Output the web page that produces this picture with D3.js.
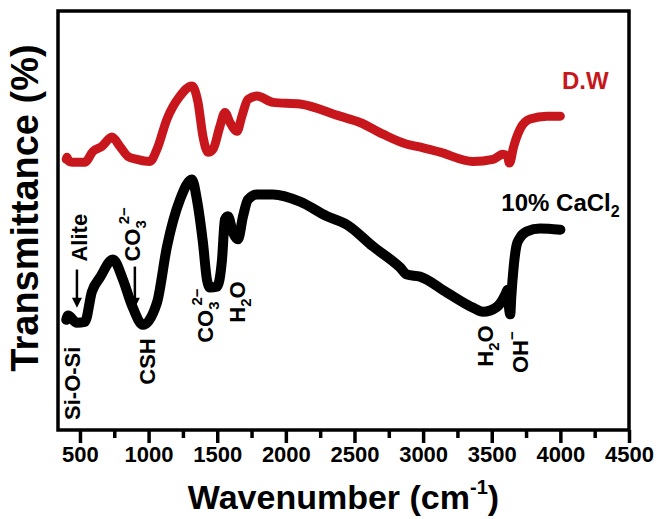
<!DOCTYPE html>
<html><head><meta charset="utf-8">
<script src="https://cdn.jsdelivr.net/npm/d3@7"></script>
<style>body{margin:0;background:#fff}</style>
</head><body><svg id="c" width="657" height="519"></svg>
<script>
// ---- data ----
const wnBlack = [400,413,478,536,587,646,740,813,879,959,1061,1134,1229,1316,1352,1396,1425,1447,1498,1535,1556,1578,1615,1651,1688,1724,1790,1906,2103,2300,2445,2635,2832,2883,2977,3174,3363,3436,3538,3600,3615,3628,3635,3642,3660,3680,3700,3757,3852,4000];
const tBlack  = [26.3,27.3,25.6,25.8,33.0,36.4,40.7,35.9,29.7,25.1,30.4,43.8,55.0,59.8,55.0,44.7,35.9,34.0,34.2,40.7,50.2,51.0,47.1,45.5,51.0,55.0,56.2,56.2,54.5,51.0,49.0,43.8,38.8,37.1,36.6,32.8,29.2,28.2,29.4,32.4,33.5,28.5,27.6,31.5,39.0,44.0,45.6,47.4,48.1,47.8];
const wnRed = [400,405,420,449,536,595,660,733,791,850,915,1010,1061,1134,1229,1316,1360,1396,1433,1469,1520,1556,1593,1644,1680,1724,1790,1906,2103,2394,2540,2708,2883,2955,3123,3363,3509,3582,3615,3628,3635,3655,3706,3779,3903,4000];
const tRed  = [64.6,65.1,64.1,63.9,63.9,66.5,67.7,69.9,67.7,65.3,64.6,64.1,67.0,74.2,79.7,82.1,78.2,70.1,66.3,67.0,72.5,75.8,73.4,71.3,74.9,78.9,79.7,78.2,77.8,74.9,73.4,70.6,68.2,67.7,66.3,64.1,64.6,65.8,65.3,63.7,64.0,67.0,71.8,74.2,74.9,74.9];
const majorTicks = [500,1000,1500,2000,2500,3000,3500,4000,4500];
const minorTicks = [750,1250,1750,2250,2750,3250,3750,4250];
const xDomain = [340,4500];
const yDomain = [0,100];
const seriesNames = ["D.W","10% CaCl"];
// rotated peak labels: [main, sub, sup, wavenumber(baseline), transmittance(start)]
const peakLabels = [
  ["Si-O-Si","","",500,2.4],
  ["Alite","","",553,40.2],
  ["CO","3","2\u2212",937,40.2],
  ["CSH","","",1047,10.8],
  ["CO","3","2\u2212",1469,20.8],
  ["H","2","O",1702,25.6],
  ["H","2","O",3509,15.1],
  ["OH","","\u2212",3764,13.6]
];
// arrows: [wavenumber, from transmittance, to transmittance]
const arrows = [[478,38.3,29.2],[900,39.0,29.2]];

// ---- drawing ----
const svg = d3.select("#c");
const L=58,R=629,T=11,B=430;
const x = d3.scaleLinear().domain(xDomain).range([L,R]);
const y = d3.scaleLinear().domain(yDomain).range([B,T]);
const FONT = "'Liberation Sans', Arial, Helvetica, sans-serif";
const RED = "#c8161d";

const line = d3.line().x(d=>x(d[0])).y(d=>y(d[1])).curve(d3.curveMonotoneX);
svg.append("path").datum(d3.zip(wnRed,tRed)).attr("d",line)
  .attr("fill","none").attr("stroke",RED).attr("stroke-width",9)
  .attr("stroke-linecap","round").attr("stroke-linejoin","round");
svg.append("path").datum(d3.zip(wnBlack,tBlack)).attr("d",line)
  .attr("fill","none").attr("stroke","#000").attr("stroke-width",10)
  .attr("stroke-linecap","round").attr("stroke-linejoin","round");

// frame
svg.append("rect").attr("x",L).attr("y",T).attr("width",R-L).attr("height",B-T)
  .attr("fill","none").attr("stroke","#000").attr("stroke-width",3.5);

// bottom axis
const ax = d3.axisBottom(x).tickValues(majorTicks).tickSize(13).tickFormat(d3.format("d"));
const g = svg.append("g").attr("transform",`translate(0,${B})`).call(ax);
g.select(".domain").remove();
g.selectAll(".tick line").attr("stroke-width",3.5);
g.selectAll(".tick text").attr("font-family",FONT).attr("font-weight","bold")
  .attr("font-size",22).attr("fill","#000").attr("y",16).attr("dy","0.71em");
const gm = svg.append("g").attr("transform",`translate(0,${B})`)
  .call(d3.axisBottom(x).tickValues(minorTicks).tickSize(8).tickFormat(""));
gm.select(".domain").remove();
gm.selectAll(".tick line").attr("stroke-width",3.5);

// axis titles
const xt = svg.append("text").attr("x",(L+R)/2).attr("y",509).attr("text-anchor","middle")
  .attr("font-family",FONT).attr("font-weight","bold").attr("font-size",34);
xt.append("tspan").text("Wavenumber (cm");
xt.append("tspan").text("-1").attr("font-size",20).attr("dy",-15);
xt.append("tspan").text(")").attr("dy",15);

svg.append("text").attr("transform",`translate(38,208) rotate(-90)`).attr("text-anchor","middle")
  .attr("font-family",FONT).attr("font-weight","bold").attr("font-size",38)
  .text("Transmittance (%)");

// peak labels
peakLabels.forEach(([m,sub,sup,w,t])=>{
  const tx = svg.append("text").attr("transform",`translate(${x(w)},${y(t)}) rotate(-90)`)
    .attr("font-family",FONT).attr("font-weight","bold").attr("font-size",22);
  tx.append("tspan").text(m);
  if(sub){ tx.append("tspan").text(sub).attr("font-size",15).attr("dy",6); }
  if(sup){
    if(sub && sup!=="O"){ tx.append("tspan").text(sup).attr("font-size",15).attr("dx",-4).attr("dy",-17); }
    else if(sup==="O"){ tx.append("tspan").text(sup).attr("dy",-6); }
    else { tx.append("tspan").text(sup).attr("font-size",15).attr("dy",-11); }
  }
});
arrows.forEach(([w,a,b])=>{
  const xx=x(w), y1=y(a), y2=y(b);
  svg.append("line").attr("x1",xx).attr("x2",xx).attr("y1",y1).attr("y2",y2-6)
    .attr("stroke","#000").attr("stroke-width",2.5);
  svg.append("path").attr("d",`M${xx-5},${y2-10}L${xx+5},${y2-10}L${xx},${y2}Z`).attr("fill","#000");
});

// series labels
svg.append("text").attr("x",x(4012)).attr("y",y(81.3)).attr("font-family",FONT)
  .attr("font-weight","bold").attr("font-size",24).attr("fill",RED).text(seriesNames[0]);
const cl = svg.append("text").attr("x",x(3570)).attr("y",y(52.2)).attr("font-family",FONT)
  .attr("font-weight","bold").attr("font-size",24).attr("fill","#000");
cl.append("tspan").text(seriesNames[1]);
cl.append("tspan").text("2").attr("font-size",16).attr("dy",6);
</script></body></html>
